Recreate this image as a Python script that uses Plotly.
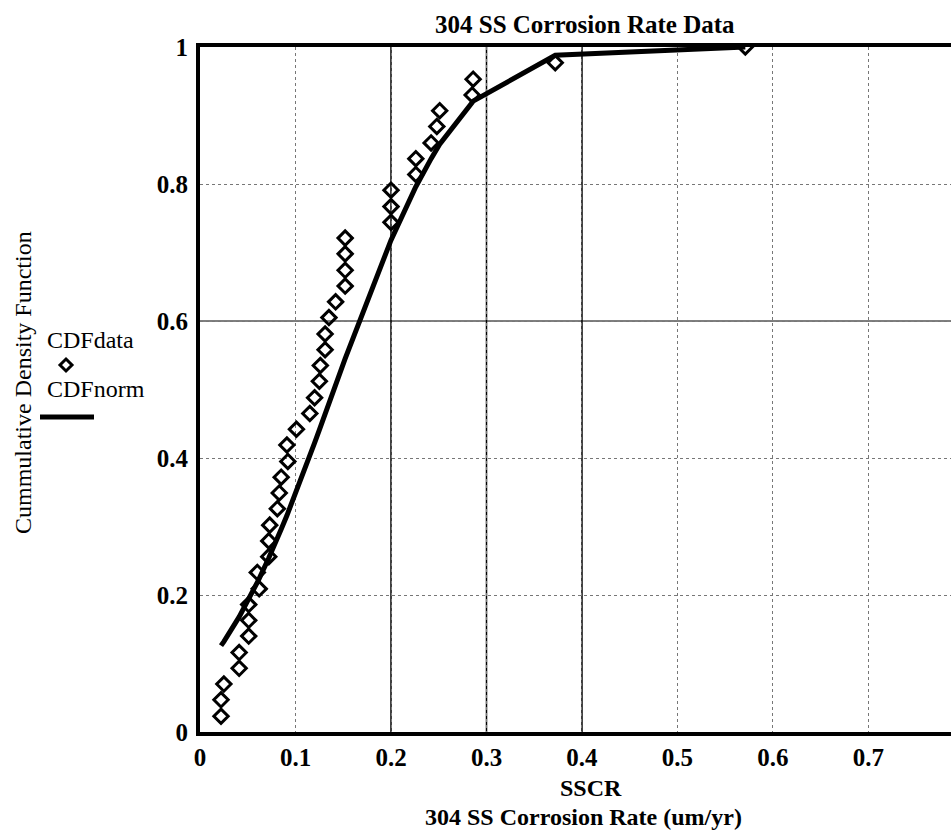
import plotly.graph_objects as go

# Measured 304 SS corrosion rates (um/yr), sorted, with empirical CDF values
sscr = [0.022, 0.022, 0.025, 0.041, 0.041, 0.051, 0.051, 0.051, 0.062, 0.060,
        0.072, 0.072, 0.073, 0.081, 0.083, 0.085, 0.092, 0.091, 0.101, 0.115,
        0.120, 0.125, 0.126, 0.131, 0.131, 0.135, 0.142, 0.152, 0.152, 0.152,
        0.152, 0.200, 0.200, 0.200, 0.226, 0.226, 0.242, 0.248, 0.251, 0.285,
        0.286, 0.372, 0.571]
cdf_data = [0.023, 0.047, 0.070, 0.093, 0.116, 0.140, 0.163, 0.186, 0.209, 0.233,
            0.256, 0.279, 0.302, 0.326, 0.349, 0.372, 0.395, 0.419, 0.442, 0.465,
            0.488, 0.512, 0.535, 0.558, 0.581, 0.605, 0.628, 0.651, 0.674, 0.698,
            0.721, 0.744, 0.767, 0.791, 0.814, 0.837, 0.860, 0.884, 0.907, 0.930,
            0.953, 0.977, 1.000]

# Fitted normal CDF evaluated at the sorted rates
norm_x = [0.022, 0.025, 0.041, 0.051, 0.061, 0.072, 0.073, 0.081, 0.083, 0.085,
          0.091, 0.101, 0.115, 0.120, 0.125, 0.131, 0.135, 0.142, 0.152, 0.200,
          0.226, 0.242, 0.248, 0.251, 0.285, 0.286, 0.372, 0.571]
cdf_norm = [0.126, 0.132, 0.168, 0.193, 0.221, 0.254, 0.257, 0.283, 0.289, 0.296,
            0.316, 0.351, 0.403, 0.422, 0.441, 0.464, 0.479, 0.506, 0.545, 0.718,
            0.796, 0.837, 0.851, 0.858, 0.919, 0.921, 0.988, 1.000]

x_ticks = [0, 0.1, 0.2, 0.3, 0.4, 0.5, 0.6, 0.7]
x_tick_text = ["0", "0.1", "0.2", "0.3", "0.4", "0.5", "0.6", "0.7"]
y_ticks = [0, 0.2, 0.4, 0.6, 0.8, 1]
y_tick_text = ["0", "0.2", "0.4", "0.6", "0.8", "1"]

SERIF = "Liberation Serif, Times New Roman, serif"

# Pixel geometry of the plotting area
W, H = 951, 832
L, T, B = 200, 47, 100
PW, PH = W - L, H - T - B


def px(xp):
    return (xp - L) / PW


def py(yp):
    return (H - B - yp) / PH


fig = go.Figure()

fig.add_trace(go.Scatter(
    x=norm_x, y=cdf_norm, mode="lines",
    line=dict(color="black", width=5),
    showlegend=False,
))
fig.add_trace(go.Scatter(
    x=sscr, y=cdf_data, mode="markers",
    marker=dict(symbol="diamond-open", size=11, color="black",
                line=dict(color="black", width=3)),
    showlegend=False,
))

grid_color = "#777777"
tick_font = dict(family=SERIF, size=25, color="black", weight="bold")
fig.update_xaxes(
    range=[0, 0.7864], tickvals=x_ticks, ticktext=x_tick_text,
    showgrid=True, gridcolor=grid_color, gridwidth=1, griddash="dot",
    zeroline=False, showline=True, linecolor="black", linewidth=4,
    mirror=True, ticks="", ticklabelstandoff=0, tickfont=tick_font,
)
fig.update_yaxes(
    range=[0, 1], tickvals=y_ticks, ticktext=y_tick_text,
    showgrid=True, gridcolor=grid_color, gridwidth=1, griddash="dot",
    zeroline=False, showline=True, linecolor="black", linewidth=4,
    ticks="", ticklabelstandoff=3, tickfont=tick_font,
)

shapes = []
# Solid reference grid lines
for xv in [0.2, 0.3, 0.4]:
    shapes.append(dict(type="line", xref="x", yref="y", x0=xv, x1=xv, y0=0, y1=1,
                       line=dict(color="black", width=1.5), layer="below"))
shapes.append(dict(type="line", xref="x", yref="y", x0=0, x1=0.7864, y0=0.6, y1=0.6,
                   line=dict(color="black", width=1.2), layer="below"))

# Legend glyphs in the left margin
shapes.append(dict(type="path", xref="paper", yref="paper",
                   xsizemode="pixel", ysizemode="pixel",
                   xanchor=px(66), yanchor=py(365),
                   path="M0,6 L6,0 L0,-6 L-6,0 Z",
                   line=dict(color="black", width=3), fillcolor="rgba(0,0,0,0)"))
shapes.append(dict(type="line", xref="paper", yref="paper",
                   x0=px(40), x1=px(94), y0=py(417), y1=py(417),
                   line=dict(color="black", width=5)))

title_font = dict(family=SERIF, size=25, color="black")
axis_title_font = dict(family=SERIF, size=24, color="black")
annotations = [
    dict(text="<b>304 SS Corrosion Rate Data</b>", x=px(585), y=py(25),
         xref="paper", yref="paper", showarrow=False, xanchor="center", yanchor="middle",
         font=title_font),
    dict(text="<b>SSCR</b>", x=px(591), y=py(788),
         xref="paper", yref="paper", showarrow=False, xanchor="center", yanchor="middle",
         font=axis_title_font),
    dict(text="<b>304 SS Corrosion Rate (um/yr)</b>", x=px(583), y=py(817),
         xref="paper", yref="paper", showarrow=False, xanchor="center", yanchor="middle",
         font=axis_title_font),
    dict(text="Cummulative Density Function", x=px(23), y=py(383), textangle=-90,
         xref="paper", yref="paper", showarrow=False, xanchor="center", yanchor="middle",
         font=dict(family=SERIF, size=24, color="black")),
    dict(text="CDFdata", x=px(45), y=py(340),
         xref="paper", yref="paper", showarrow=False, xanchor="left", yanchor="middle",
         font=dict(family=SERIF, size=24, color="black")),
    dict(text="CDFnorm", x=px(45), y=py(389),
         xref="paper", yref="paper", showarrow=False, xanchor="left", yanchor="middle",
         font=dict(family=SERIF, size=24, color="black")),
]

fig.update_layout(
    width=W, height=H,
    margin=dict(l=L, r=0, t=T, b=B, pad=0),
    paper_bgcolor="white", plot_bgcolor="white",
    shapes=shapes, annotations=annotations,
    showlegend=False,
)

fig.write_html("out.html")
